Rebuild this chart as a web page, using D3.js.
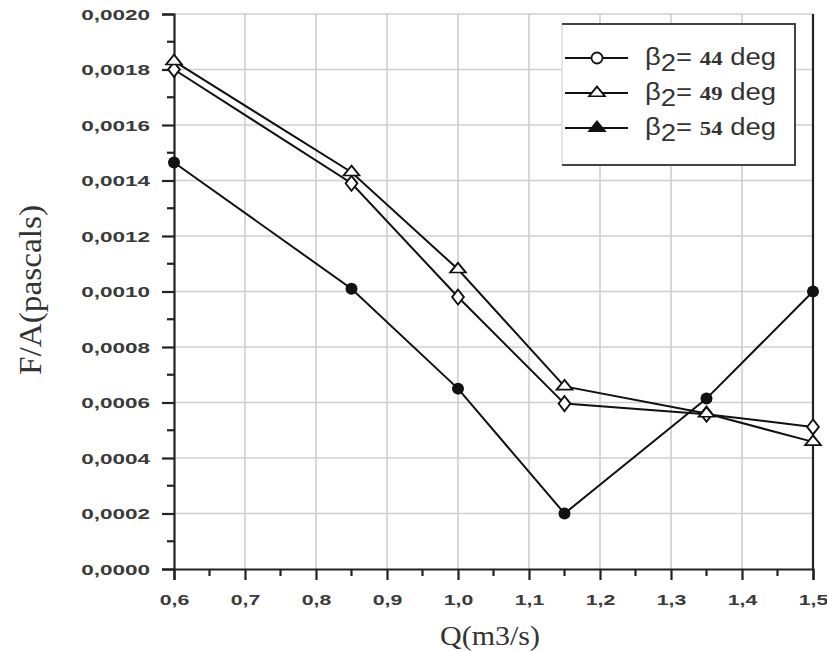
<!DOCTYPE html>
<html><head><meta charset="utf-8">
<script src="https://cdn.jsdelivr.net/npm/d3@7"></script>
<style>body{margin:0;background:#fff}svg{display:block}</style>
</head><body>
<svg id="chart" width="827" height="651"></svg>
<script>
const flow = [0.6, 0.85, 1.0, 1.15, 1.35, 1.5];
const beta44 = [0.00180, 0.00139, 0.00098, 0.000596, 0.000558, 0.000512];
const beta49 = [0.00183, 0.00143, 0.00108, 0.000658, 0.000560, 0.000458];
const beta54 = [0.001465, 0.00101, 0.00065, 0.00020, 0.000614, 0.00100];
const seriesNames = ["44", "49", "54"];
const xTicks = [0.6,0.7,0.8,0.9,1.0,1.1,1.2,1.3,1.4,1.5];
const yTicks = [0,0.0002,0.0004,0.0006,0.0008,0.0010,0.0012,0.0014,0.0016,0.0018,0.0020];

const svg = d3.select("#chart");
const L = 174, R = 813, T = 14, B = 569;
const x = d3.scaleLinear().domain([0.6, 1.5]).range([L, R]);
const y = d3.scaleLinear().domain([0, 0.002]).range([B, T]);
const loc = d3.formatLocale({decimal: ",", thousands: ".", grouping: [3], currency: ["", ""]});
const fx = loc.format(".1f"), fy = loc.format(".4f");

function stretch(sel, k) {
  sel.each(function () {
    const w = this.getComputedTextLength();
    d3.select(this).attr("textLength", w * k).attr("lengthAdjust", "spacingAndGlyphs");
  });
}

// grid
const grid = svg.append("g").attr("stroke", "#cfcfcf").attr("stroke-width", 1.6);
grid.selectAll(".gx").data(xTicks.slice(1)).enter().append("line")
  .attr("x1", d => x(d)).attr("x2", d => x(d)).attr("y1", T).attr("y2", B);
grid.selectAll(".gy").data(yTicks.slice(1)).enter().append("line")
  .attr("x1", L).attr("x2", R).attr("y1", d => y(d)).attr("y2", d => y(d));

// axes
const tickFont = "bold 15px 'Liberation Sans', Arial, sans-serif";
const xAxis = d3.axisBottom(x).tickValues(xTicks).tickFormat(fx).tickSize(11).tickPadding(14);
const gx = svg.append("g").attr("transform", `translate(0,${B})`).call(xAxis);
const yAxis = d3.axisLeft(y).tickValues(yTicks).tickFormat(fy).tickSize(12).tickPadding(12);
const gy = svg.append("g").attr("transform", `translate(${L},0)`).call(yAxis);
[gx, gy].forEach(g => {
  g.select(".domain").attr("stroke", "#222").attr("stroke-width", 2.2);
  g.selectAll(".tick line").attr("stroke", "#222").attr("stroke-width", 2.2);
  g.selectAll(".tick text").attr("fill", "#3a3a3a").style("font", tickFont);
});
gy.selectAll(".tick text").attr("dy", "0.35em");
stretch(gx.selectAll(".tick text"), 1.42);
stretch(gy.selectAll(".tick text"), 1.5);
// minor ticks
const minorX = d3.range(0.65, 1.5, 0.1);
svg.append("g").selectAll("line").data(minorX).enter().append("line")
  .attr("x1", d => x(d)).attr("x2", d => x(d)).attr("y1", B).attr("y2", B + 7)
  .attr("stroke", "#222").attr("stroke-width", 2.2);
const minorY = d3.range(0.0001, 0.002, 0.0002);
svg.append("g").selectAll("line").data(minorY).enter().append("line")
  .attr("y1", d => y(d)).attr("y2", d => y(d)).attr("x1", L).attr("x2", L - 7)
  .attr("stroke", "#222").attr("stroke-width", 2.2);
// right border
svg.append("line").attr("x1", R).attr("x2", R).attr("y1", T).attr("y2", B)
  .attr("stroke", "#222").attr("stroke-width", 2.2);

// titles
const xt = svg.append("text").attr("x", 490).attr("y", 645).attr("text-anchor", "middle")
  .style("font", "28px 'Liberation Serif', 'Times New Roman', serif").attr("fill", "#333").text("Q(m3/s)");
xt.attr("textLength", 100).attr("lengthAdjust", "spacingAndGlyphs");
const yt = svg.append("text").attr("transform", "translate(41,290) rotate(-90)").attr("text-anchor", "middle")
  .style("font", "31px 'Liberation Serif', 'Times New Roman', serif").attr("fill", "#333").text("F/A(pascals)");
yt.attr("textLength", 170).attr("lengthAdjust", "spacingAndGlyphs");

// series
const data = [beta44, beta49, beta54];
const line = d3.line().x(d => x(d[0])).y(d => y(d[1]));
data.forEach(vals => {
  svg.append("path").datum(flow.map((q, i) => [q, vals[i]]))
    .attr("d", line).attr("fill", "none").attr("stroke", "#111").attr("stroke-width", 2);
});
const diamond = d3.symbol().type(d3.symbolDiamond).size(90);
const tri = d3.symbol().type(d3.symbolTriangle).size(75);
const pts = (vals) => flow.map((q, i) => [q, vals[i]]);
svg.append("g").selectAll("path").data(pts(beta44)).enter().append("path")
  .attr("d", diamond).attr("transform", d => `translate(${x(d[0])},${y(d[1])}) scale(1.15,0.85)`)
  .attr("fill", "#fff").attr("stroke", "#111").attr("stroke-width", 1.8);
svg.append("g").selectAll("path").data(pts(beta49)).enter().append("path")
  .attr("d", tri).attr("transform", d => `translate(${x(d[0])},${y(d[1])}) scale(1.2,0.85)`)
  .attr("fill", "#fff").attr("stroke", "#111").attr("stroke-width", 1.8);
svg.append("g").selectAll("circle").data(pts(beta54)).enter().append("circle")
  .attr("cx", d => x(d[0])).attr("cy", d => y(d[1])).attr("r", 6).attr("fill", "#111");

// legend
const lg = svg.append("g");
lg.append("rect").attr("x", 562).attr("y", 24).attr("width", 233).attr("height", 141)
  .attr("fill", "#fff").attr("stroke", "none");
lg.append("line").attr("x1", 562).attr("x2", 562).attr("y1", 24).attr("y2", 165).attr("stroke", "#ddd").attr("stroke-width", 1.5);
lg.append("path").attr("d", "M562,24H795V165H562").attr("fill", "none").attr("stroke", "#444").attr("stroke-width", 2);
const rows = [58, 93, 128];
const markers = ["circle", "triangle", "filledTriangle"];
seriesNames.forEach((name, i) => {
  const ry = rows[i];
  lg.append("line").attr("x1", 565).attr("x2", 628).attr("y1", ry).attr("y2", ry).attr("stroke", "#111").attr("stroke-width", 2);
  if (markers[i] === "circle") {
    lg.append("circle").attr("cx", 597).attr("cy", ry).attr("r", 5.5).attr("fill", "#fff").attr("stroke", "#111").attr("stroke-width", 1.8);
  } else {
    lg.append("path").attr("d", tri).attr("transform", `translate(597,${ry}) scale(1.2,0.85)`)
      .attr("fill", markers[i] === "triangle" ? "#fff" : "#111").attr("stroke", "#111").attr("stroke-width", 1.8);
  }
  const t = lg.append("text").attr("x", 645).attr("y", ry + 7).attr("fill", "#333")
    .style("font", "23px 'Liberation Sans', Arial, sans-serif");
  t.append("tspan").text("β");
  t.append("tspan").attr("dy", 6).text("2");
  t.append("tspan").attr("dy", -6).text("= ");
  t.append("tspan").style("font", "bold 19px 'Liberation Serif', 'Times New Roman', serif").text(name);
  t.append("tspan").text(" deg");
  t.attr("textLength", 131).attr("lengthAdjust", "spacingAndGlyphs");
});
</script>
</body></html>
